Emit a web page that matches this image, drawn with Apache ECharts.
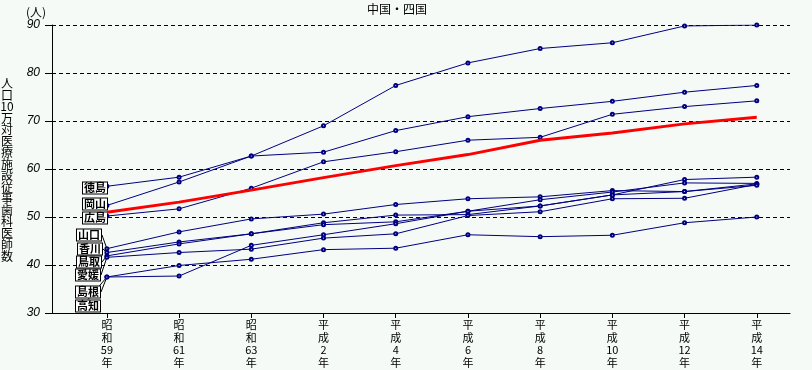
<!DOCTYPE html>
<html>
<head>
<meta charset="utf-8">
<script src="https://cdn.jsdelivr.net/npm/echarts@6/dist/echarts.min.js"></script>
<style>
html,body{margin:0;padding:0;background:#f5faf7;}
#c{width:812px;height:370px;}
</style>
</head>
<body>
<div id="c"></div>
<script>
// ---- data ----
const title = '中国・四国';
const yName = '人口10万対医療施設従事歯科医師数';
const yUnit = '(人)';
const categories = ['昭和59年','昭和61年','昭和63年','平成2年','平成4年','平成6年','平成8年','平成10年','平成12年','平成14年'];
const yTicks = [30, 40, 50, 60, 70, 80, 90];

const tokushima = [56.4, 58.3, 62.7, 69.0, 77.4, 82.1, 85.1, 86.3, 89.8, 90.0];
const okayama   = [52.4, 57.3, 62.7, 63.5, 68.0, 70.9, 72.6, 74.1, 76.0, 77.4];
const hiroshima = [50.2, 51.7, 56.0, 61.5, 63.6, 66.0, 66.6, 71.4, 73.0, 74.2];
const yamaguchi = [43.4, 46.9, 49.6, 50.6, 52.6, 53.8, 54.2, 55.5, 55.3, 56.9];
const kagawa    = [42.6, 44.8, 46.5, 48.8, 50.4, 50.5, 52.3, 54.6, 57.8, 58.3];
const tottori   = [41.9, 44.4, 46.5, 48.4, 49.0, 51.2, 53.6, 55.2, 57.1, 57.0];
const ehime     = [41.6, 42.6, 43.3, 45.6, 46.5, 50.3, 51.1, 53.8, 53.9, 56.8];
const shimane   = [37.5, 39.9, 41.2, 43.2, 43.5, 46.3, 45.9, 46.2, 48.8, 50.0];
const kochi     = [37.5, 37.7, 44.1, 46.3, 48.6, 51.2, 52.3, 54.6, 55.3, 56.6];
const national  = [51.0, 53.1, 55.6, 58.2, 60.7, 63.0, 66.0, 67.5, 69.4, 70.8];

const prefSeries = [
  ['徳島', tokushima], ['岡山', okayama], ['広島', hiroshima],
  ['山口', yamaguchi], ['香川', kagawa], ['鳥取', tottori], ['愛媛', ehime],
  ['島根', shimane], ['高知', kochi]
];
// name-box placement (label layout, px)
const boxPos = {
  '徳島':[95,188], '岡山':[95,204], '広島':[95,218],
  '山口':[89,235], '香川':[90,249], '鳥取':[89,262], '愛媛':[88,275],
  '島根':[88,292], '高知':[88,306]
};

const vert = s => s.match(/\d+|\D/g).join('\n');
const FONT = '"Noto Sans CJK JP", "Noto Sans", sans-serif';
const NAVY = '#000080';

const series = prefSeries.map(([name, vals]) => ({
  name: name,
  type: 'line',
  data: vals.map((v, i) => i === 0 ? {value: [i, v], label: {show: true}} : [i, v]),
  symbol: 'emptyCircle',
  symbolSize: 3,
  showAllSymbol: true,
  lineStyle: {color: NAVY, width: 1},
  itemStyle: {color: NAVY, borderWidth: 1},
  label: {
    show: false,
    formatter: '{a}',
    fontFamily: FONT,
    fontSize: 11,
    fontWeight: 'bold',
    color: '#000',
    backgroundColor: '#ffffff',
    borderColor: '#000',
    borderWidth: 1,
    padding: [0, 1],
    lineHeight: 11
  },
  labelLine: {show: true, lineStyle: {color: '#000', width: 1}},
  labelLayout: {x: boxPos[name][0], y: boxPos[name][1], align: 'center', verticalAlign: 'middle', moveOverlap: false, hideOverlap: false},
  emphasis: {disabled: true},
  z: 2
}));
series.push({
  name: '全国',
  type: 'line',
  data: national.map((v, i) => [i, v]),
  symbol: 'none',
  lineStyle: {color: '#ff0000', width: 3},
  emphasis: {disabled: true},
  z: 3
});

const chart = echarts.init(document.getElementById('c'), null, {renderer: 'canvas'});
chart.setOption({
  animation: false,
  backgroundColor: '#f5faf7',
  title: {
    text: title, left: 392, top: -2, textAlign: 'center',
    textStyle: {fontFamily: FONT, fontSize: 12, fontWeight: 'normal', color: '#000'}
  },
  grid: {left: 52, right: 22, top: 25, bottom: 57, containLabel: false},
  xAxis: {
    type: 'value',
    min: -0.76, max: 9.46,
    axisLine: {show: true, onZero: false, lineStyle: {color: '#000', width: 1}},
    axisTick: {show: true, length: 5, customValues: categories.map((c, i) => i), lineStyle: {color: '#000'}},
    axisLabel: {
      show: true, customValues: categories.map((c, i) => i),
      formatter: v => vert(categories[Math.round(v)]),
      fontFamily: FONT, fontSize: 11, lineHeight: 12.5, color: '#000', margin: 6
    },
    splitLine: {show: false}
  },
  yAxis: {
    type: 'value', min: yTicks[0], max: yTicks[yTicks.length - 1], interval: 10,
    axisLine: {show: true, onZero: false, lineStyle: {color: '#000', width: 1}},
    axisTick: {show: true, length: 7, lineStyle: {color: '#000'}},
    axisLabel: {fontFamily: '"Liberation Sans", Arial, sans-serif', fontStyle: 'italic', fontSize: 12, color: '#000', margin: 12},
    splitLine: {show: true, lineStyle: {color: '#000', type: [4, 3], width: 1}}
  },
  graphic: [
    {type: 'text', x: 26, y: 6, style: {text: yUnit, fontFamily: FONT, fontSize: 12, fill: '#000'}},
    {type: 'text', x: 7, y: 78, style: {text: vert(yName), fontFamily: FONT, fontSize: 12, lineHeight: 11.5, fill: '#000', align: 'center'}}
  ],
  series: series
});
</script>
</body>
</html>
